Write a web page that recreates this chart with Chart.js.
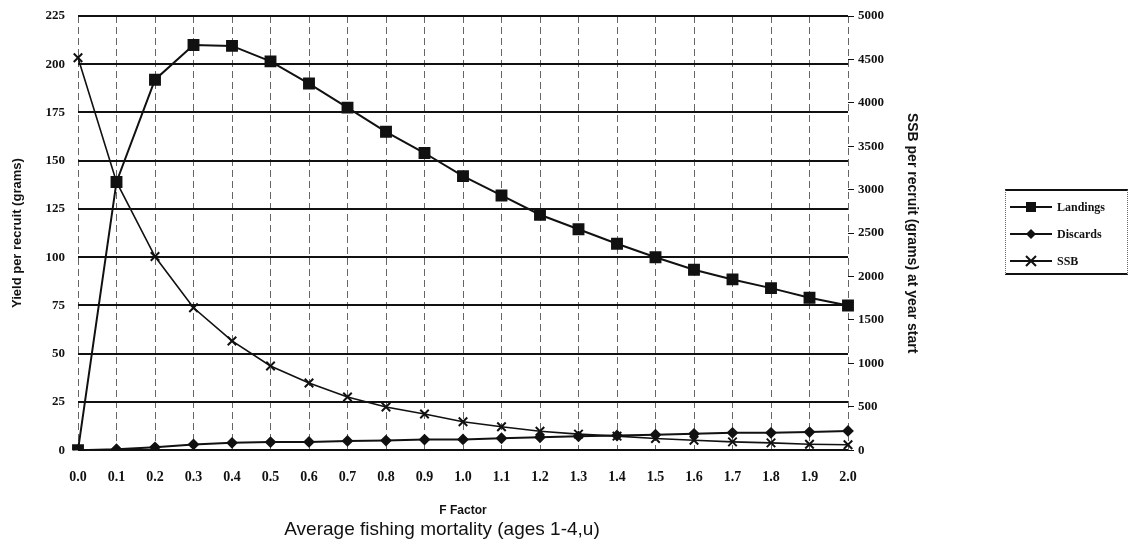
<!DOCTYPE html>
<html lang="en">
<head>
<meta charset="UTF-8">
<title>Yield and SSB per recruit</title>
<script src="https://cdn.jsdelivr.net/npm/chart.js"></script>
<style>
  body {margin:0;background:#fff;}
  .wrap {position:relative;width:1136px;height:545px;}
  #legend {position:absolute;left:1005px;top:189px;width:123px;height:86px;
    border-top:2px solid #111;border-bottom:2px solid #111;
    border-left:1px dotted #666;border-right:1px dotted #666;box-sizing:border-box;
    font-family:'Liberation Serif',serif;font-weight:bold;font-size:12px;color:#111;}
  .item {position:absolute;left:4px;height:20px;display:flex;align-items:center;}
  .item svg {margin-right:5px;}
</style>
</head>
<body>
<div class="wrap">
  <canvas id="chart" width="1136" height="545"></canvas>
  <div id="legend"></div>
</div>
<script>
// data
const fFactor = ['0.0','0.1','0.2','0.3','0.4','0.5','0.6','0.7','0.8','0.9','1.0',
                 '1.1','1.2','1.3','1.4','1.5','1.6','1.7','1.8','1.9','2.0'];
const landings = [0,139,192,210,209.5,201.5,190,177.5,165,154,142,132,122,114.5,107,100,93.5,88.5,84,79,75];
const discards = [0,0.5,1.5,3,3.8,4.2,4.3,4.8,5,5.5,5.6,6.2,6.7,7.2,7.6,8,8.5,9,9,9.4,10];
const ssb = [4520,3090,2230,1640,1258,970,774,612,497,416,327,270,219,185,162,135,115,96,84,69,62];

const serif = 'Liberation Serif';

new Chart(document.getElementById('chart'), {
  type:'line',
  data:{
    labels:fFactor,
    datasets:[
      {label:'Landings',data:landings,yAxisID:'y',borderColor:'#111',backgroundColor:'#111',
       borderWidth:2,pointStyle:'rect',pointRadius:7,tension:0},
      {label:'Discards',data:discards,yAxisID:'y',borderColor:'#111',backgroundColor:'#111',
       borderWidth:2,pointStyle:'rectRot',pointRadius:4.5,tension:0},
      {label:'SSB',data:ssb,yAxisID:'y2',borderColor:'#111',backgroundColor:'#111',
       borderWidth:1.6,pointStyle:'crossRot',pointRadius:6,pointBorderWidth:2,tension:0}
    ]
  },
  options:{
    responsive:false,
    animation:false,
    // negative left padding so the bottom title centres where the original does
    layout:{padding:{top:16,left:-36,right:216,bottom:0}},
    plugins:{
      legend:{display:false},
      tooltip:{enabled:false},
      title:{display:true,position:'bottom',text:'Average fishing mortality (ages 1-4,u)',
        color:'#111',font:{family:'Liberation Sans',size:19,weight:'normal'},padding:{top:0,bottom:4}}
    },
    scales:{
      x:{
        offset:false,
        grid:{color:'#666',lineWidth:1,drawTicks:false},
        border:{display:false,dash:[7,4]},
        ticks:{color:'#111',font:{family:serif,size:14,weight:'bold'},padding:19,maxRotation:0,autoSkip:false},
        title:{display:true,text:'F Factor',color:'#111',
          font:{family:'Liberation Sans',size:12,weight:'bold'},padding:{top:0,bottom:0}},
        afterFit(s){ s.height = 68; }
      },
      y:{
        position:'left',min:0,max:225,
        ticks:{stepSize:25,color:'#111',font:{family:serif,size:13,weight:'bold'},padding:13},
        grid:{color:'#111',lineWidth:2,drawTicks:false},
        border:{display:false},
        title:{display:true,text:'Yield per recruit (grams)',color:'#111',
          font:{family:'Liberation Sans',size:13,weight:'bold'},padding:{top:46,bottom:0}},
        afterFit(s){ s.width = 114; s.paddingTop = 0; s.paddingBottom = 0; }
      },
      y2:{
        position:'right',min:0,max:5000,
        ticks:{stepSize:500,color:'#111',font:{family:serif,size:13,weight:'bold'},padding:4,
          format:{useGrouping:false}},
        grid:{drawOnChartArea:false,drawTicks:true,tickLength:6,tickColor:'#111',tickWidth:1},
        border:{display:false},
        title:{display:true,text:'SSB per recruit (grams) at year start',color:'#111',
          font:{family:'Liberation Sans',size:14,weight:'bold'},padding:{top:0,bottom:0}},
        afterFit(s){ s.width = 72; s.paddingTop = 0; s.paddingBottom = 0; }
      }
    }
  }
});

// legend with line + marker samples
const marks = {
  Landings:'<rect x="16" y="5" width="10" height="10" fill="#111"/>',
  Discards:'<polygon points="21,5 26,10 21,15 16,10" fill="#111"/>',
  SSB:'<path d="M16 5 L26 15 M26 5 L16 15" stroke="#111" stroke-width="2"/>'
};
const legend = document.getElementById('legend');
['Landings','Discards','SSB'].forEach((name,i)=>{
  const d = document.createElement('div');
  d.className = 'item';
  d.style.top = (6 + i*27) + 'px';
  d.innerHTML = `<svg width="42" height="20"><line x1="0" y1="10" x2="42" y2="10" stroke="#111" stroke-width="2"/>${marks[name]}</svg><span>${name}</span>`;
  legend.appendChild(d);
});
</script>
</body>
</html>
